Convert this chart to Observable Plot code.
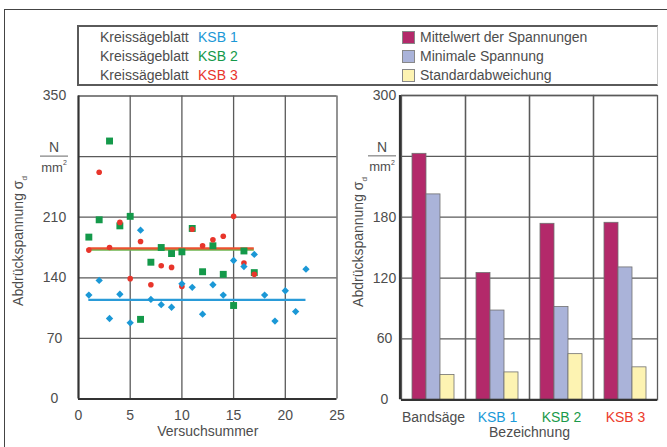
<!DOCTYPE html>
<html><head><meta charset="utf-8">
<script src="https://cdn.jsdelivr.net/npm/d3@7"></script>
<script src="https://cdn.jsdelivr.net/npm/@observablehq/plot@0.6"></script>
<style>
body{margin:0;background:#fff;}
#root{position:relative;width:667px;height:447px;overflow:hidden;font-family:"Liberation Sans",Arial,sans-serif;color:#4d4d4d;background:#fff}
#root svg{position:absolute;left:0;top:0;background:transparent}
#outer{position:absolute;left:4px;top:9px;width:700px;height:500px;border-top:1.5px solid #444;border-left:1.5px solid #444;box-sizing:border-box}
#legend{position:absolute;left:77px;top:25px;width:581px;height:61px;box-sizing:border-box;border-top:2px solid #5a5a5a;border-bottom:2px solid #5a5a5a;border-left:2px solid #5a5a5a;border-right:1px solid #c8c8c8;z-index:2;background:#fff}
.lt{position:absolute;font-size:14px;line-height:16px;white-space:nowrap;color:#4d4d4d}
.sw{position:absolute;width:11px;height:11px;border:1px solid #888}
</style></head><body><div id="root"><div id="outer"></div><div id="legend"></div></div>
<script>
// ---- data: left chart (Versuchsnummer vs. Abdrückspannung) ----
const trialsKSB1 = [1,2,3,4,5,6,7,8,9,10,11,12,13,14,15,16,17,18,19,20,21,22];
const valuesKSB1 = [120,137,93,121,88,195,115,109,106,133,129,98,132,120,160,153,167,120,90,125,101,150];
const trialsKSB2 = [1,2,3,4,5,6,7,8,9,10,11,12,13,14,15,16,17];
const valuesKSB2 = [187,207,298,200,211,92,158,175,168,170,197,147,177,144,108,171,146];
const trialsKSB3 = [1,2,3,4,5,6,7,8,9,10,11,12,13,14,15,16,17];
const valuesKSB3 = [172,262,175,204,139,182,132,154,152,130,196,177,184,188,211,157,144];
const lineSeries = ["KSB 1","KSB 2","KSB 3"];
const lineLevels = [114.5,172.5,174];
const lineStarts = [1,1,1];
const lineEnds = [22,17,17];
const leftYTicks = [0,70,140,210,350];
const leftYGrid = [70,140,210,280,350];
const leftXTicks = [0,5,10,15,20,25];
const leftUnitTick = 280;

// ---- data: right chart (Bezeichnung) ----
const categories = ["Bandsäge","KSB 1","KSB 2","KSB 3"];
const measures = ["Mittelwert der Spannungen","Minimale Spannung","Standardabweichung"];
const meanValues = [242.5,125,173.5,174.5];
const minValues = [202.5,88,91.5,130.5];
const stdValues = [24.5,27,45,32];
const rightYTicks = [0,60,120,180,300];
const rightYGrid = [60,120,180,240,300];
const rightUnitTick = 240;

// ---- styling ----
const seriesColor = {"KSB 1":"#1b98d6","KSB 2":"#14994a","KSB 3":"#e8352b"};
const lineColor = {"KSB 1":"#2a9bd8","KSB 2":"#6cb44e","KSB 3":"#ec5230"};
const catColor = {"Bandsäge":"#4d4d4d","KSB 1":"#1b9ad8","KSB 2":"#1a9a4a","KSB 3":"#ec3b2b"};
const measureColor = {"Mittelwert der Spannungen":"#b3296a","Minimale Spannung":"#aab3d9","Standardabweichung":"#fdf3b2"};
const textColor = "#4d4d4d";
const gridColor = "#5a5a5a";
const FONT = "'Liberation Sans', Arial, sans-serif";

// legend
const legend = document.getElementById("legend");
const rowsY = [1.5,20.5,39.5]; // relative to legend box inner top
lineSeries.forEach((s,i)=>{
  legend.insertAdjacentHTML("beforeend",
    `<div class="lt" style="left:21px;top:${rowsY[i]}px">Kreissägeblatt</div>`+
    `<div class="lt" style="left:119px;top:${rowsY[i]}px;color:${seriesColor[s]}">${s}</div>`);
});
measures.forEach((m,i)=>{
  legend.insertAdjacentHTML("beforeend",
    `<div class="sw" style="left:323px;top:${rowsY[i]+2.5}px;background:${measureColor[m]}"></div>`+
    `<div class="lt" style="left:341px;top:${rowsY[i]}px">${m}</div>`);
});

const root = document.getElementById("root");

function addUnit(svg, cx, y){
  const g = d3.select(svg).append("g").attr("fill",textColor).attr("text-anchor","middle").attr("font-family",FONT);
  g.append("text").attr("x",cx).attr("y",y-9).attr("dy","0.35em").attr("font-size",14).text("N");
  g.append("line").attr("x1",cx-14).attr("x2",cx+14).attr("y1",y).attr("y2",y).attr("stroke","#666").attr("stroke-width",1);
  const t = g.append("text").attr("x",cx).attr("y",y+11).attr("dy","0.35em").attr("font-size",13).text("mm");
  t.append("tspan").attr("font-size",7).attr("dy","-0.9em").text("2");
}
function addYLabel(svg, x, y){
  const t = d3.select(svg).append("text").attr("transform",`translate(${x},${y}) rotate(-90)`)
    .attr("text-anchor","middle").attr("dy","0.35em").attr("fill",textColor).attr("font-size",14).attr("font-family",FONT)
    .text("Abdrückspannung σ");
  t.append("tspan").attr("font-size",8).attr("dy","0.5em").text("d");
}

// ---- left plot ----
const pts1 = trialsKSB1.map((x,i)=>({x, y:valuesKSB1[i]}));
const pts2 = trialsKSB2.map((x,i)=>({x, y:valuesKSB2[i]}));
const pts3 = trialsKSB3.map((x,i)=>({x, y:valuesKSB3[i]}));
const lines = lineSeries.map((s,i)=>({series:s, level:lineLevels[i], start:lineStarts[i], end:lineEnds[i]}));

const left = Plot.plot({
  width: 667, height: 447,
  marginLeft: 78, marginRight: 330.5, marginTop: 95.5, marginBottom: 48.5,
  style: {background:"transparent", fontFamily: FONT, fontSize:"14px", color:textColor},
  x: {domain:[0,25], axis:null},
  y: {domain:[0,350], axis:null},
  marks: [
    Plot.gridY(leftYGrid, {stroke:gridColor, strokeOpacity:1, strokeWidth:1.3}),
    Plot.gridX(leftXTicks.filter(d=>d>0), {stroke:gridColor, strokeOpacity:1, strokeWidth:1.3}),
    Plot.ruleX([0], {stroke:"#333", strokeWidth:2.2}),
    Plot.ruleY([0], {stroke:"#333", strokeWidth:2.2}),
    Plot.text(leftYTicks, {y:d=>d, frameAnchor:"left", dx:-24, textAnchor:"middle", lineAnchor:"middle", text:d=>String(d), fill:textColor}),
    Plot.text(leftXTicks, {x:d=>d, frameAnchor:"bottom", dy:16.5, lineAnchor:"middle", text:d=>String(d), fill:textColor}),
    Plot.text(["Versuchsummer"], {frameAnchor:"bottom", dy:33, lineAnchor:"middle", text:d=>d, fill:textColor}),
    Plot.ruleY(lines, {y:"level", x1:"start", x2:"end", stroke:d=>lineColor[d.series], strokeWidth:2.2}),
    Plot.dot(pts2, {x:"x", y:"y", symbol:"square", r:3.9, fill:seriesColor["KSB 2"], stroke:"none"}),
    Plot.dot(pts3, {x:"x", y:"y", symbol:"circle", r:2.8, fill:seriesColor["KSB 3"], stroke:"none"}),
    Plot.dot(pts1, {x:"x", y:"y", symbol:"diamond2", r:3.3, fill:seriesColor["KSB 1"], stroke:"none"})
  ]
});
root.appendChild(left);
addUnit(left, 54, left.scale("y").apply(leftUnitTick));
addYLabel(left, 18, 241);

// ---- right plot ----
const bars = [];
categories.forEach((c,i)=>{
  bars.push({cat:c, measure:measures[0], value:meanValues[i]});
  bars.push({cat:c, measure:measures[1], value:minValues[i]});
  bars.push({cat:c, measure:measures[2], value:stdValues[i]});
});

const right = Plot.plot({
  width: 667, height: 447,
  marginLeft: 400, marginRight: 9, marginTop: 95, marginBottom: 47.7,
  style: {background:"transparent", fontFamily: FONT, fontSize:"14px", color:textColor},
  fx: {domain:categories, padding:0, axis:null},
  x: {domain:measures, paddingInner:0, paddingOuter:0.74, axis:null},
  y: {domain:[0,300], axis:null},
  marks: [
    Plot.gridY(rightYGrid, {stroke:gridColor, strokeOpacity:1, strokeWidth:1.3}),
    Plot.frame({stroke:gridColor, strokeWidth:1.3}),
    Plot.barY(bars, {fx:"cat", x:"measure", y:"value", fill:d=>measureColor[d.measure], stroke:"#707070", strokeWidth:0.8}),
    Plot.ruleY([0], {stroke:"#333", strokeWidth:2.2}),
    Plot.text(rightYTicks, {fx:()=>categories[0], y:d=>d, frameAnchor:"left", dx:-17, textAnchor:"middle", lineAnchor:"middle", text:d=>String(d), fill:textColor}),
    Plot.text(categories, {fx:d=>d, text:d=>d, frameAnchor:"bottom", dy:17.5, lineAnchor:"middle", fill:d=>catColor[d]}),
    Plot.text(["Bezeichnung"], {fx:()=>categories[1], frameAnchor:"bottom-right", textAnchor:"middle", lineAnchor:"middle", dy:32.5, text:d=>d, fill:textColor})
  ]
});
root.appendChild(right);
addUnit(right, 382, right.scale("y").apply(rightUnitTick));
addYLabel(right, 358, 242);
// left axis line of right plot
d3.select(right).append("line").attr("x1",400).attr("x2",400).attr("y1",95).attr("y2",right.scale("y").apply(0)).attr("stroke","#333").attr("stroke-width",2.2);
</script></body></html>
